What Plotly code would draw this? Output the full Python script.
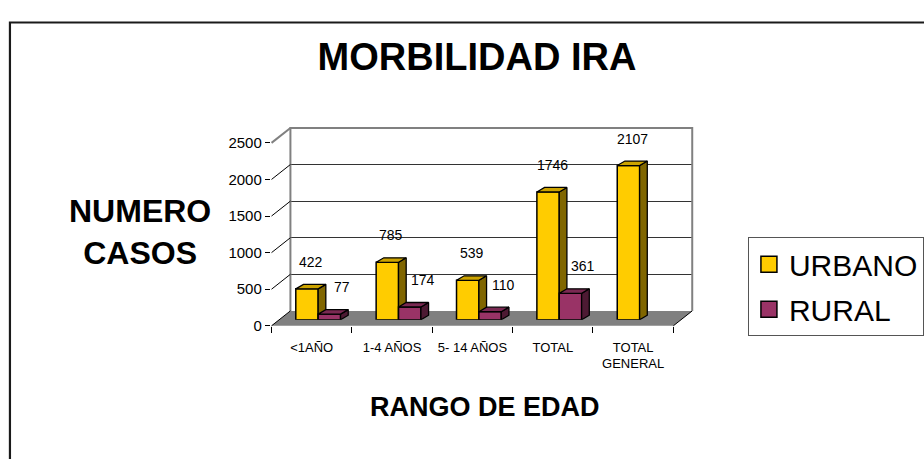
import plotly.graph_objects as go

# ---------------- data ----------------
categories = ["<1AÑO", "1-4 AÑOS", "5- 14 AÑOS", "TOTAL", "TOTAL<br>GENERAL"]
urbano = [422, 785, 539, 1746, 2107]
rural = [77, 174, 110, 361, None]
y_ticks = [0, 500, 1000, 1500, 2000, 2500]
series_names = ["URBANO", "RURAL"]

# ---------------- geometry helpers ----------------
W, H = 924, 459
FONT = "Liberation Sans, Arial, sans-serif"


def X(px):
    return px / W


def Y(py):
    return 1 - py / H


# front plane (axis ticks): value 0 at py=329, 2500 at py=139
FX0, FX1 = 273, 677
FY0, FY1 = 329, 139
# back wall offset and bar-depth offset (pixels)
BDX, BDY = 19, -15.5
MDX, MDY = 6.5, -6.3
YMAX = 2500
n = len(categories)

px_per_cat = (FX1 - FX0) / n
px_per_val = (FY0 - FY1) / YMAX

# bar 3d depth in data units
DEPTH_PX_X, DEPTH_PX_Y = 7.7, 4.7
ddx = DEPTH_PX_X / px_per_cat
ddy = DEPTH_PX_Y / px_per_val
BW = 0.2785  # bar width (category units)

colors = {
    "URBANO": dict(front="#FFCC00", top="#CCA300", side="#806600"),
    "RURAL": dict(front="#993366", top="#7A2952", side="#4D1A33"),
}

fig = go.Figure()

xr = [-0.5, n - 0.5]

# invisible trace so the back wall (xy) subplot is drawn
fig.add_trace(go.Scatter(x=[None], y=[None], xaxis="x", yaxis="y",
                         showlegend=False, hoverinfo="skip"))

# ---------------- bars (x2/y2 = mid-depth plane) ----------------
z = 0
for name, vals, off in [("URBANO", urbano, -BW), ("RURAL", rural, 0.0)]:
    c = colors[name]
    xs = list(range(n))
    fig.add_trace(go.Bar(
        x=xs, y=vals, width=BW, offset=off, name=name,
        marker=dict(color=c["front"], line=dict(color="black", width=1.5)),
        xaxis="x2", yaxis="y2", showlegend=False, zorder=z, hoverinfo="skip"))
    side_x, side_y, top_x, top_y = [], [], [], []
    for i, v in enumerate(vals):
        if v is None:
            continue
        xl = i + off
        xrr = xl + BW
        side_x += [xrr, xrr + ddx, xrr + ddx, xrr, xrr, None]
        side_y += [0, ddy, v + ddy, v, 0, None]
        top_x += [xl, xl + ddx, xrr + ddx, xrr, xl, None]
        top_y += [v, v + ddy, v + ddy, v, v, None]
    fig.add_trace(go.Scatter(
        x=side_x, y=side_y, mode="lines", fill="toself", fillcolor=c["side"],
        line=dict(color="black", width=1.3), xaxis="x2", yaxis="y2",
        showlegend=False, hoverinfo="skip", zorder=z + 1))
    fig.add_trace(go.Scatter(
        x=top_x, y=top_y, mode="lines", fill="toself", fillcolor=c["top"],
        line=dict(color="black", width=1.3), xaxis="x2", yaxis="y2",
        showlegend=False, hoverinfo="skip", zorder=z + 1))
    z += 2

# legend proxies
for gi, name in enumerate(series_names):
    fig.add_trace(go.Scatter(
        x=[None], y=[None], mode="markers", name=name,
        marker=dict(symbol="square", size=16, color=colors[name]["front"],
                    line=dict(color="black", width=1.5)),
        xaxis="x2", yaxis="y2", legendgroup=f"g{gi}", showlegend=True))

# data labels
annotations = []
for vals, off, xs_ in [(urbano, -BW, 4), (rural, 0.0, 13)]:
    for i, v in enumerate(vals):
        if v is None:
            continue
        annotations.append(dict(
            x=i + off + BW / 2, y=v, xref="x2", yref="y2", text=str(v),
            showarrow=False, yshift=27, xshift=xs_,
            xanchor="center", yanchor="middle",
            font=dict(size=14, family=FONT, color="black")))

annotations.append(dict(
    x=X(141), y=Y(232), xref="paper", yref="paper",
    text="<b>NUMERO<br>CASOS</b>", showarrow=False,
    xanchor="center", yanchor="middle",
    font=dict(size=32, family=FONT, color="black")))
annotations.append(dict(
    x=X(488), y=Y(413), xref="paper", yref="paper",
    text="<b>RANGO DE EDAD</b>", showarrow=False,
    xanchor="center", yanchor="middle",
    font=dict(size=27, family=FONT, color="black")))

# ---------------- decoration shapes ----------------
shapes = []
# outer chart border
shapes.append(dict(type="rect", xref="paper", yref="paper",
                   x0=X(10), x1=X(940), y0=Y(14), y1=Y(480),
                   line=dict(color="#1a1a1a", width=2.2), layer="below"))
# floor
fb = FY0 + BDY
shapes.append(dict(type="path", xref="paper", yref="paper",
                   path=f"M{X(FX0)},{Y(FY0)} L{X(FX1)},{Y(FY0)} L{X(FX1 + BDX)},{Y(fb)} L{X(FX0 + BDX)},{Y(fb)} Z",
                   fillcolor="#808080", line=dict(width=0), layer="below"))
shapes.append(dict(type="line", xref="paper", yref="paper",
                   x0=X(FX1), y0=Y(FY0), x1=X(FX1 + BDX), y1=Y(fb),
                   line=dict(color="black", width=1)))
# back wall frame (left, top, right edges)
shapes.append(dict(type="path", xref="x domain", yref="y domain",
                   path="M0,0 L0,1 L1,1 L1,0",
                   line=dict(color="#808080", width=2)))
# diagonals from front ticks to back wall
for v in y_ticks:
    yf = FY0 - v * px_per_val
    col = "#808080" if v == YMAX else "black"
    wd = 2 if v == YMAX else 1
    shapes.append(dict(type="line", xref="paper", yref="paper",
                       x0=X(FX0), y0=Y(yf), x1=X(FX0 + BDX), y1=Y(yf + BDY),
                       line=dict(color=col, width=wd)))

fig.update_layout(
    width=W, height=H, autosize=False,
    margin=dict(l=0, r=0, t=0, b=0),
    paper_bgcolor="white", plot_bgcolor="rgba(0,0,0,0)",
    barmode="overlay",
    title=dict(text="<b>MORBILIDAD IRA</b>", x=X(477), y=Y(57),
               xanchor="center", yanchor="middle",
               font=dict(size=38, family=FONT, color="black")),
    font=dict(family=FONT, color="black"),
    # back wall (xy)
    xaxis=dict(domain=[X(FX0 + BDX), X(FX1 + BDX)], range=xr, anchor="y",
               showgrid=False, zeroline=False, showticklabels=False, ticks="",
               showline=False, fixedrange=True),
    yaxis=dict(domain=[Y(FY0 + BDY), Y(FY1 + BDY)], range=[0, YMAX], anchor="x",
               showgrid=True, gridcolor="#333333", gridwidth=1, dtick=500,
               zeroline=False, showticklabels=False, ticks="",
               showline=False, fixedrange=True),
    # bars plane (x2y2)
    xaxis2=dict(domain=[X(FX0 + MDX), X(FX1 + MDX)], range=xr, anchor="y2",
                visible=False, fixedrange=True),
    yaxis2=dict(domain=[Y(FY0 + MDY), Y(FY1 + MDY)], range=[0, YMAX], anchor="x2",
                visible=False, fixedrange=True),
    # front axes (x3y3)
    xaxis3=dict(domain=[X(FX0), X(FX1)], range=xr, anchor="y3",
                tickmode="array", tickvals=list(range(n)), ticktext=categories,
                ticks="", showgrid=False, zeroline=False,
                showline=True, linecolor="black", linewidth=1.3,
                ticklabelstandoff=9,
                tickfont=dict(size=13, family=FONT, color="black"),
                minor=dict(tickmode="array", tickvals=[i - 0.5 for i in range(n + 1)],
                           ticks="outside", ticklen=6, tickcolor="black", tickwidth=1,
                           showgrid=False),
                fixedrange=True),
    yaxis3=dict(domain=[Y(FY0), Y(FY1)], range=[0, YMAX], anchor="x3",
                tickmode="array", tickvals=y_ticks, ticks="outside", ticklen=5,
                tickcolor="black", showgrid=False, zeroline=False,
                showline=True, linecolor="black", linewidth=1.5,
                tickfont=dict(size=15, family=FONT, color="black"),
                fixedrange=True),
    legend=dict(x=X(752), y=Y(237), xanchor="left", yanchor="top",
                bgcolor="white", bordercolor="#555555", borderwidth=1,
                font=dict(size=30, family=FONT, color="black"),
                entrywidth=200, entrywidthmode="pixels",
                traceorder="grouped", tracegroupgap=3),
    shapes=shapes, annotations=annotations,
)

# invisible trace so the front axes are drawn
fig.add_trace(go.Scatter(x=[None], y=[None], xaxis="x3", yaxis="y3",
                         showlegend=False, hoverinfo="skip"))

fig.write_html("out.html", config={"displayModeBar": False},
               post_script="document.body.style.margin='0px';")
